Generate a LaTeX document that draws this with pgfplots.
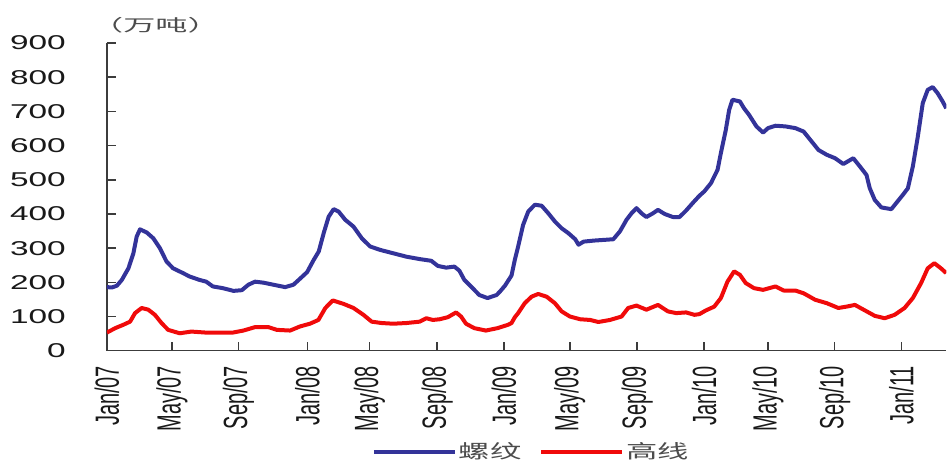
\documentclass[border=0pt]{standalone}
\usepackage{fontspec}
\setmainfont{Liberation Sans}
\newfontfamily\widefont[FakeStretch=1.67]{Liberation Sans}
\newfontfamily\cjkwide[FakeStretch=1.65]{Noto Sans CJK SC}
\newfontfamily\cjkunit[FakeStretch=1.95]{Noto Sans CJK SC}
\usepackage{graphicx}
\usepackage{pgfplots}
\pgfplotsset{compat=1.18}
\definecolor{rebarblue}{RGB}{51,51,153}
\definecolor{wirered}{RGB}{240,10,10}
\definecolor{axisgray}{RGB}{60,60,60}
\newcommand{\xl}[1]{\scalebox{1.68}[1]{\rotatebox{90}{\fontsize{20}{22}\selectfont #1}}}
\begin{document}
\begin{tikzpicture}
\begin{axis}[
  name=ax,
  at={(0,0)}, anchor=south west,
  scale only axis, width=840pt, height=308pt,
  xmin=0, xmax=50.72, ymin=0, ymax=900,
  axis x line=bottom, axis y line=left,
  axis line style={-, color=axisgray, line width=1.5pt},
  tick align=inside, major tick length=9pt,
  tick style={color=axisgray, line width=1.5pt},
  ytick={0,100,...,900},
  yticklabels={0,100,200,300,400,500,600,700,800,900},
  yticklabel style={font=\fontsize{20}{22}\widefont, inner sep=0pt, anchor=east, xshift=-41pt, text=black!90},
  xtick={0,3.925,7.95,12.11,15.86,19.96,23.99,27.97,32.04,36.09,39.95,43.98,48.0},
  xticklabels={\xl{Jan/07},\xl{May/07},\xl{Sep/07},\xl{Jan/08},\xl{May/08},\xl{Sep/08},\xl{Jan/09},\xl{May/09},\xl{Sep/09},\xl{Jan/10},\xl{May/10},\xl{Sep/10},\xl{Jan/11}},
  xticklabel style={inner sep=0pt, anchor=north, yshift=-15pt, text=black!90},
  legend columns=2,
  legend style={at={(0.3155,-0.328)}, anchor=west, draw=none, fill=none, inner sep=0pt,
    font=\fontsize{19}{21}\cjkwide, text=black!70,
    /tikz/every even column/.append style={column sep=16pt}},
  legend image code/.code={\draw[#1] (0pt,0pt) -- (81pt,0pt);},
]
\addplot[rebarblue, line width=4pt, line join=round] coordinates {
(0,186) (0.3,185) (0.6,190) (0.9,207) (1.3,241) (1.6,285) (1.8,334) (2.0,355)
(2.4,346) (2.8,329) (3.2,300) (3.6,261) (4.0,241) (4.6,227) (5.0,217) (5.6,207)
(6.0,202) (6.4,188) (7.0,183) (7.65,175) (8.15,177) (8.55,193) (8.95,202) (9.46,199)
(10.06,193) (10.77,186) (11.27,193) (11.7,212) (12.1,230) (12.5,266) (12.8,290) (13.1,344)
(13.4,392) (13.7,414) (14.0,407) (14.4,383) (14.9,363) (15.4,329) (15.9,305) (16.5,295)
(17.3,285) (18.1,275) (18.9,268) (19.6,263) (20.0,248) (20.5,243) (21.0,246) (21.3,234)
(21.6,207) (22.0,188) (22.5,163) (23.0,154) (23.55,163) (23.75,173) (24.05,190) (24.45,220)
(24.65,266) (24.85,305) (25.15,368) (25.46,407) (25.86,427) (26.27,424) (26.67,402) (27.07,378)
(27.48,358) (27.88,344) (28.3,326) (28.5,310) (28.8,319) (29.4,322) (30.0,324) (30.6,326)
(31.0,349) (31.4,383) (31.7,402) (32.0,417) (32.3,402) (32.6,391) (33.0,402) (33.3,412)
(33.7,400) (34.2,391) (34.6,391) (35.0,410) (35.4,432) (35.8,453) (36.1,466) (36.5,490)
(36.9,529) (37.1,578) (37.4,646) (37.6,704) (37.8,734) (38.25,729) (38.5,709) (38.8,690)
(39.25,656) (39.65,638) (39.95,651) (40.4,658) (41.0,656) (41.6,651) (42.1,641) (42.5,617)
(43.0,587) (43.5,573) (44.0,563) (44.5,546) (45.1,563) (45.5,539) (45.9,514) (46.1,475)
(46.4,441) (46.8,419) (47.4,414) (47.7,432) (48.1,456) (48.4,475) (48.7,539) (49.0,626)
(49.3,724) (49.6,763) (49.9,771) (50.2,753) (50.5,729) (50.72,709)
};
\addlegendentry{螺纹}
\addplot[wirered, line width=4pt, line join=round] coordinates {
(0,53) (0.5,66) (1.0,76) (1.4,85) (1.7,110) (2.1,125) (2.5,120) (2.9,105)
(3.3,81) (3.7,61) (4.4,51) (5.1,56) (6.0,53) (7.6,53) (8.25,59) (8.95,69)
(9.76,69) (10.27,61) (11.07,59) (11.67,71) (12.27,79) (12.78,90) (13.2,125) (13.65,147)
(14.3,137) (14.9,125) (15.5,105) (16.0,85) (16.6,81) (17.3,79) (18.1,81) (18.9,85)
(19.3,95) (19.7,90) (20.1,92) (20.6,98) (21.1,112) (21.4,100) (21.7,79) (22.2,66)
(22.9,59) (23.6,66) (24.25,76) (24.45,81) (24.65,98) (24.85,110) (25.25,139) (25.66,158)
(26.06,166) (26.57,158) (27.07,139) (27.48,115) (27.98,100) (28.6,92) (29.2,90) (29.7,84)
(30.4,90) (31.1,100) (31.5,125) (32.0,132) (32.6,120) (33.3,134) (33.9,115) (34.4,110)
(35.0,112) (35.5,105) (35.8,107) (36.2,118) (36.7,129) (37.1,154) (37.5,202) (37.9,232)
(38.25,222) (38.6,198) (39.1,183) (39.65,178) (40.4,188) (40.9,176) (41.6,176) (42.1,168)
(42.8,149) (43.5,139) (44.2,125) (44.7,129) (45.2,134) (45.8,118) (46.4,102) (47.0,95)
(47.6,105) (48.2,125) (48.7,154) (49.2,198) (49.6,241) (50.0,256) (50.4,241) (50.72,227)
};
\addlegendentry{高线}
\end{axis}
\node[anchor=west, inner sep=0pt, font=\fontsize{16.5}{18}\cjkunit, text=black!70] at ([xshift=-16pt,yshift=18pt]ax.north west) {（万吨）};
\path[use as bounding box] (-107pt,-110pt) rectangle (840pt,351pt);
\end{tikzpicture}
\end{document}
